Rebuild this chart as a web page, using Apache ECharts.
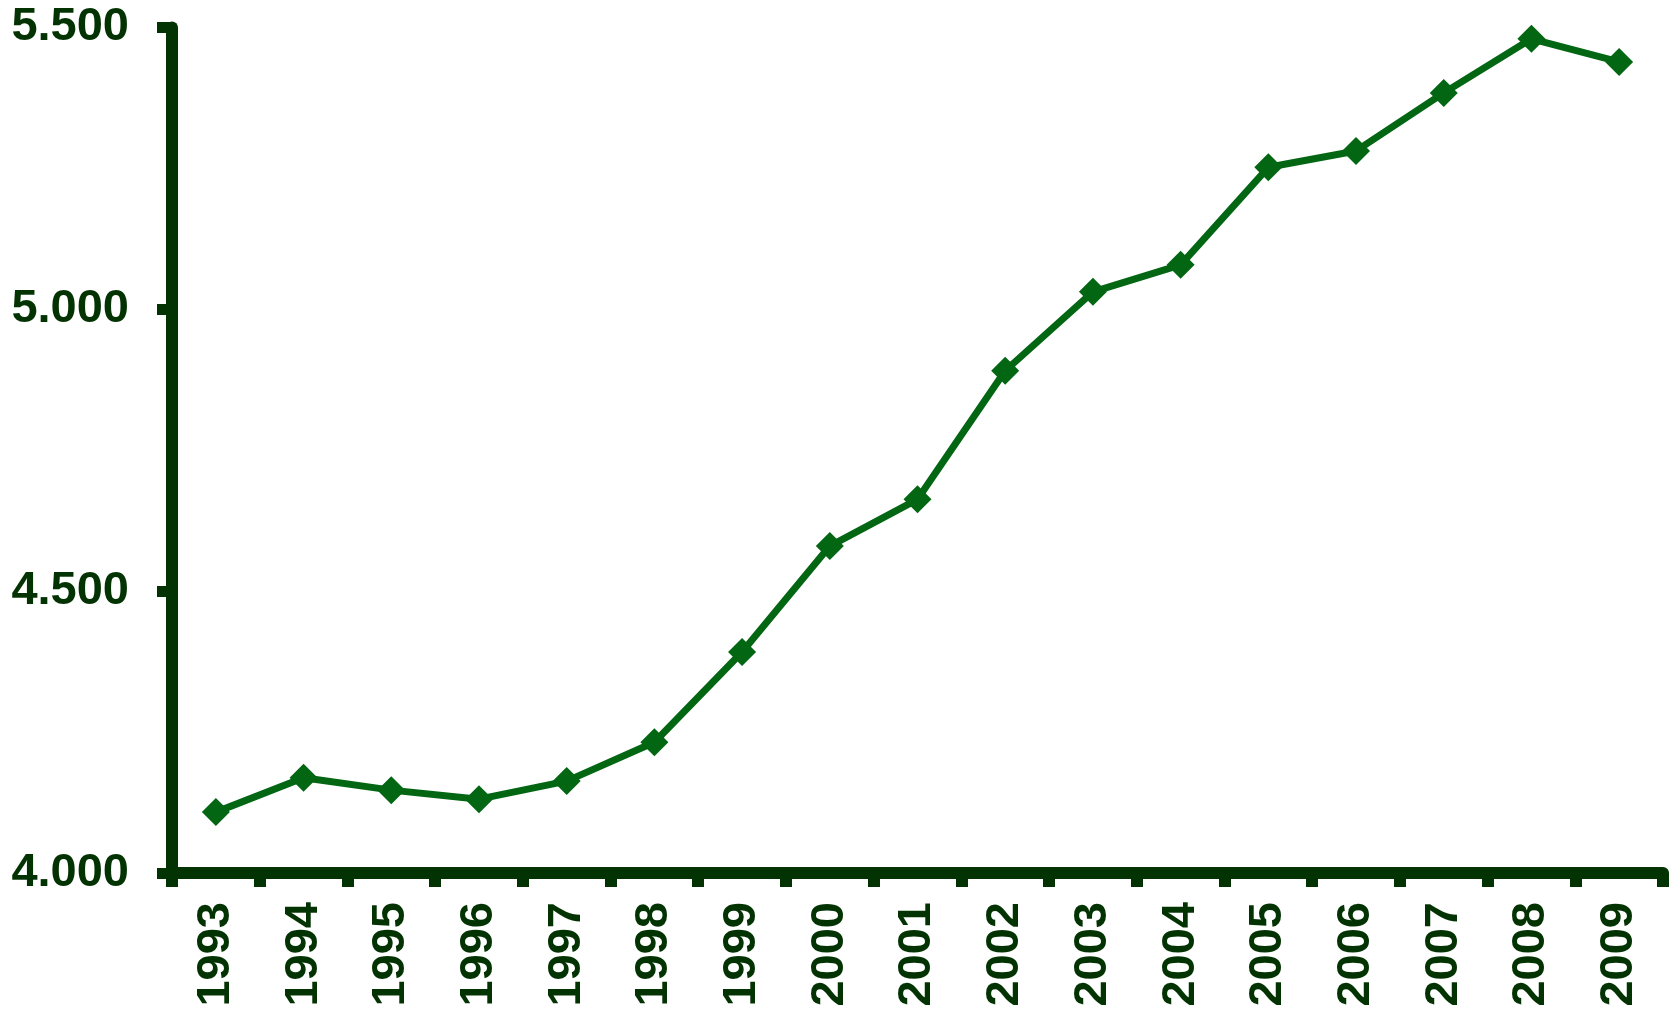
<!DOCTYPE html>
<html>
<head>
<meta charset="utf-8">
<script src="https://cdn.jsdelivr.net/npm/echarts@6/dist/echarts.min.js"></script>
<style>
html,body{margin:0;padding:0;background:#fff;}
#chart{width:1672px;height:1012px;}
</style>
</head>
<body>
<div id="chart"></div>
<script>
var years = ['1993','1994','1995','1996','1997','1998','1999','2000','2001','2002','2003','2004','2005','2006','2007','2008','2009'];
var values = [4108,4169,4147,4131,4163,4232,4392,4580,4663,4891,5031,5079,5252,5281,5384,5480,5439];
var yMin = 4000, yMax = 5500, yStep = 500;

var axisColor = '#033303';
var lineColor = '#036612';
var chart = echarts.init(document.getElementById('chart'));
chart.setOption({
  animation: false,
  backgroundColor: '#ffffff',
  grid: {left: 172, right: 9, top: 27.5, bottom: 139, containLabel: false},
  xAxis: {
    type: 'category',
    data: years,
    boundaryGap: true,
    axisLine: {lineStyle: {color: axisColor, width: 12}},
    axisTick: {show: true, length: 14, lineStyle: {color: axisColor, width: 12}},
    axisLabel: {
      rotate: 90, margin: 29, color: axisColor,
      fontFamily: 'Liberation Sans', fontWeight: 'bold', fontSize: 47
    },
    splitLine: {show: false}
  },
  yAxis: {
    type: 'value',
    min: yMin, max: yMax, interval: yStep,
    axisLine: {show: true, lineStyle: {color: axisColor, width: 12}},
    axisTick: {show: true, length: 15, lineStyle: {color: axisColor, width: 11}},
    axisLabel: {
      margin: 43, color: axisColor,
      fontFamily: 'Liberation Sans', fontWeight: 'bold', fontSize: 47,
      formatter: function (v) { return String(v).replace(/\B(?=(\d{3})+(?!\d))/g, '.'); }
    },
    splitLine: {show: false}
  },
  series: [{
    type: 'line',
    data: values,
    symbol: 'diamond',
    symbolSize: 28,
    lineStyle: {color: lineColor, width: 7},
    itemStyle: {color: lineColor}
  }]
});
</script>
</body>
</html>
